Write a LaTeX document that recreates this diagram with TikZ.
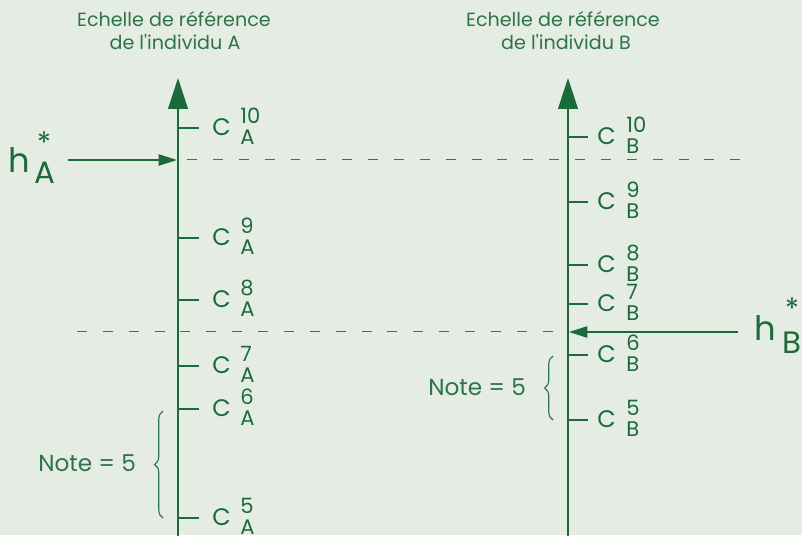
\documentclass[tikz,border=0pt]{standalone}
\usepackage{fontspec}
\setmainfont{Poppins}
\usetikzlibrary{arrows.meta,decorations.pathreplacing}
\definecolor{bggreen}{HTML}{E4ECE3}
\definecolor{darkgreen}{HTML}{1B6B3A}
\definecolor{textgreen}{HTML}{2C7548}

\begin{document}
\begin{tikzpicture}[x=0.025cm,y=-0.025cm,
  ax/.style={line width=1.2pt,darkgreen,-{Triangle[length=22pt,width=14pt]}},
  tk/.style={line width=1pt,darkgreen},
  dsh/.style={line width=1pt,darkgreen!90!white,dash pattern=on 7.1pt off 11.3pt},
  ha/.style={line width=1pt,darkgreen,-{Triangle[length=13pt,width=8pt]}},
  br/.style={line width=0.8pt,textgreen,decorate,decoration={brace,amplitude=6pt}},
  ttl/.style={anchor=base,inner sep=0pt,text=textgreen,font=\fontsize{13.6}{16}\selectfont},
  cl/.style={anchor=base west,inner sep=0pt,text=darkgreen,font=\fontsize{17}{19}\selectfont},
  ix/.style={anchor=base west,inner sep=0pt,text=darkgreen,font=\fontsize{15}{17}\selectfont},
  nt/.style={anchor=base west,inner sep=0pt,text=textgreen,font=\fontsize{16.5}{18}\selectfont},
  hl/.style={anchor=base west,inner sep=0pt,text=darkgreen,font=\fontsize{24}{27}\selectfont},
  hi/.style={anchor=base west,inner sep=0pt,text=darkgreen,font=\fontsize{22}{25}\selectfont},
  hs/.style={inner sep=0pt,text=darkgreen,font=\fontsize{21}{24}\selectfont}]
\path[use as bounding box,fill=bggreen] (0,0) rectangle (802,535);

% titles
\node[ttl] (tA1) at (174,26) {Echelle de référence};
\node[ttl] (tA2) at (175,49) {de l\textquotesingle individu A};
\node[ttl] (tB1) at (563,26) {Echelle de référence};
\node[ttl] (tB2) at (566,49) {de l\textquotesingle individu B};

% axes
\coordinate (A0) at (178,536); \coordinate (A1) at (178,78);
\coordinate (B0) at (568,536); \coordinate (B1) at (568,78);
\draw[ax] (A0) -- (A1);
\draw[ax] (B0) -- (B1);

% graduations A
\foreach \n/\y in {10/128,9/238,8/300,7/366,6/409,5/518}{
  \coordinate (tA\n) at (178,\y); \coordinate (eA\n) at (199,\y);
  \draw[tk] (tA\n) -- (eA\n);
  \node[cl] (cA\n) at (212,\y+7.5) {C};
  \node[ix] (sA\n) at (240,\y-5) {\n};
  \node[ix] (bA\n) at (240,\y+16) {A};
}
% graduations B
\foreach \n/\y in {10/137,9/202,8/265,7/304,6/355,5/420}{
  \coordinate (tB\n) at (568,\y); \coordinate (eB\n) at (588,\y);
  \draw[tk] (tB\n) -- (eB\n);
  \node[cl] (cB\n) at (597,\y+7.5) {C};
  \node[ix] (sB\n) at (626,\y-5) {\n};
  \node[ix] (bB\n) at (626,\y+16) {B};
}

% niveaux h*
\coordinate (dU1) at (187,159.5); \coordinate (dU2) at (740,159.5);
\coordinate (dL1) at (77,331.5); \coordinate (dL2) at (555,331.5);
\draw[dsh] (dU1) -- (dU2);
\draw[dsh] (dL1) -- (dL2);
\node[hl] (hA) at (8,172) {h};
\node[hs] (hAs) at (44,143) {*};
\node[hi] (hAi) at (34,183) {A};
\coordinate (hAo) at (68,160); \coordinate (hAt) at (177,160);
\draw[ha] (hAo) -- (hAt);
\node[hl] (hB) at (754,340) {h};
\node[hs] (hBs) at (792,309) {*};
\node[hi] (hBi) at (782,353) {B};
\coordinate (hBo) at (738,332); \coordinate (hBt) at (569,332);
\draw[ha] (hBo) -- (hBt);

% accolades
\coordinate (kA0) at (163,518); \coordinate (kA1) at (163,411);
\coordinate (kB0) at (553,420); \coordinate (kB1) at (553,356);
\draw[br] (kA0) -- (kA1);
\draw[br] (kB0) -- (kB1);
\node[nt] (nA) at (38,471.5) {Note = 5};
\node[nt] (nB) at (428,395) {Note = 5};
\end{tikzpicture}
\end{document}
